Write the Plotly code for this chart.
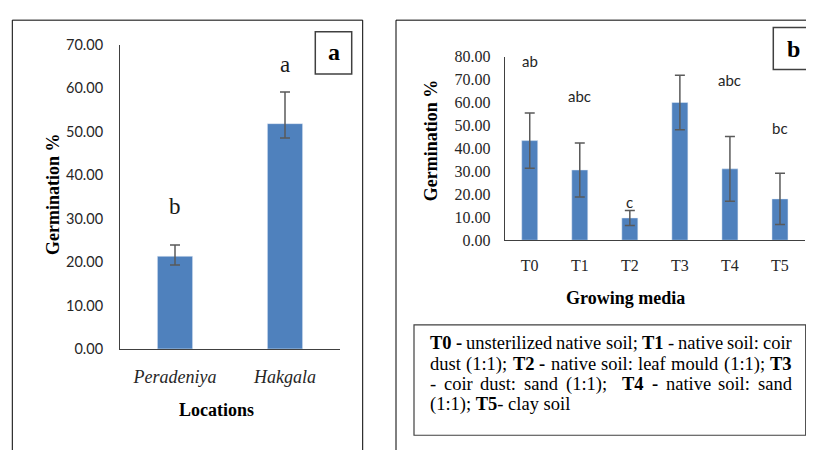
import plotly.graph_objects as go

# ---------------- data ----------------
locations = ["Peradeniya", "Hakgala"]
loc_labels = ["<i>Peradeniya</i>", "<i>Hakgala</i>"]
loc_germ = [21.3, 51.8]
loc_err_plus = [2.6, 7.3]
loc_err_minus = [2.0, 3.3]
loc_letters = ["b", "a"]
loc_letter_y = [32.7, 65.3]

media = ["T0", "T1", "T2", "T3", "T4", "T5"]
media_germ = [43.4, 30.6, 9.7, 60.0, 31.1, 18.0]
media_err = [12.0, 11.8, 3.3, 11.9, 14.1, 11.2]
media_letters = ["ab", "abc", "c", "a", "abc", "bc"]
media_letter_y = [77.9, 62.7, 16.6, 89.8, 69.7, 48.7]

ticks_a = [0, 10, 20, 30, 40, 50, 60, 70]
ticks_b = [0, 10, 20, 30, 40, 50, 60, 70, 80]

# description text, word by word (bold flag); "" marks a doubled space
desc_line1 = [("T0", 1), ("-", 1), ("unsterilized", 0), ("native", 0), ("soil;", 0),
              ("T1", 1), ("-", 0), ("native", 0), ("soil:", 0), ("coir", 0)]
desc_line2 = [("dust", 0), ("(1:1);", 0), ("T2", 1), ("-", 1), ("native", 0), ("soil:", 0),
              ("leaf", 0), ("mould", 0), ("(1:1);", 0), ("T3", 1)]
desc_line3 = [("-", 0), ("coir", 0), ("dust:", 0), ("sand", 0), ("(1:1);", 0), ("", 0),
              ("T4", 1), ("-", 1), ("native", 0), ("soil:", 0), ("sand", 0)]
desc_line4 = "(1:1); <b>T5</b>- clay soil"

# ---------------- layout helpers ----------------
# page body has an 8px margin: figure is sized to fill the rest of the window
OFF = 8
W, H = 814 - OFF, 450 - OFF
def px(x): return (x - OFF) / W
def py(y): return 1 - (y - OFF) / H

BAR = "#4F81BD"
ERR = "#5a5a5a"
AX = "#404040"
SERIF = "Liberation Serif"
SANS = "Lato"

# Times-compatible advance widths (per 1000 em) used to justify the paragraph
TIMES = dict(zip("abcdefghijklmnopqrstuvwxyz",
                 [444, 500, 444, 500, 444, 333, 500, 500, 278, 278, 500, 278, 778,
                  500, 500, 500, 500, 333, 389, 278, 500, 500, 722, 500, 500, 444]))
TIMES.update({"(": 333, ")": 333, ":": 278, ";": 278, "-": 333, "T": 611})
TIMES.update({str(d): 500 for d in range(10)})
TIMES_B = dict(TIMES)
TIMES_B.update({"T": 667, "-": 333})

def text_w(word, bold, size):
    table = TIMES_B if bold else TIMES
    return sum(table.get(ch, 500) for ch in word) * size / 1000.0

fig = go.Figure()

fig.add_trace(go.Bar(
    x=locations, y=loc_germ, marker_color=BAR, width=0.32,
    error_y=dict(type="data", array=loc_err_plus, arrayminus=loc_err_minus,
                 color=ERR, thickness=1.5, width=5),
    xaxis="x", yaxis="y", showlegend=False))

fig.add_trace(go.Bar(
    x=media, y=media_germ, marker_color=BAR, width=0.32,
    error_y=dict(type="data", array=media_err, color=ERR, thickness=1.5, width=5),
    xaxis="x2", yaxis="y2", showlegend=False))

axis_common = dict(showline=True, linecolor=AX, linewidth=1, showgrid=False,
                   zeroline=False, ticks="", fixedrange=True)

fig.update_layout(
    width=W, height=H, margin=dict(l=0, r=0, t=0, b=0),
    paper_bgcolor="white", plot_bgcolor="white",
    xaxis=dict(domain=[px(120), px(340)], anchor="y", range=[-0.5, 1.5],
               tickmode="array", tickvals=locations, ticktext=loc_labels,
               tickfont=dict(family=SERIF, size=18, color="#262626"),
               ticklabelstandoff=11, **axis_common),
    yaxis=dict(domain=[py(354), py(36.7)], anchor="x", range=[0, 70],
               tickmode="array", tickvals=ticks_a, tickformat=".2f",
               tickfont=dict(family=SANS, size=14.5, color="#262626"),
               ticklabelstandoff=13, **axis_common),
    xaxis2=dict(domain=[px(504.7), px(805)], anchor="y2", range=[-0.5, 5.5],
                tickfont=dict(family=SERIF, size=16, color="#262626"),
                ticklabelstandoff=11, **axis_common),
    yaxis2=dict(domain=[py(240.7), py(49.3)], anchor="x2", range=[0, 80],
                tickmode="array", tickvals=ticks_b, tickformat=".2f",
                tickfont=dict(family=SERIF, size=16, color="#262626"),
                ticklabelstandoff=10, **axis_common),
)

ann = []
# letters panel a
for c, t, yv in zip(locations, loc_letters, loc_letter_y):
    ann.append(dict(x=c, y=yv, xref="x", yref="y", text=t, showarrow=False,
                    xanchor="center", yanchor="middle",
                    font=dict(family=SERIF, size=23, color="#1a1a1a")))
# letters panel b
for c, t, yv in zip(media, media_letters, media_letter_y):
    ann.append(dict(x=c, y=yv, xref="x2", yref="y2", text=t, showarrow=False,
                    xanchor="center", yanchor="middle",
                    font=dict(family=SANS, size=15, color="#262626")))

title_font = dict(family=SERIF, size=18, color="black")
def pann(x, y, text, font, **kw):
    d = dict(x=px(x), y=py(y), xref="paper", yref="paper", text=text,
             showarrow=False, xanchor="center", yanchor="middle", font=font)
    d.update(kw)
    return d

ann += [
    pann(53, 192.5, "<b>Germination %</b>", title_font, textangle=-90),
    pann(216, 418, "<b>Locations</b>", title_font),
    pann(431.7, 136.7, "<b>Germination %</b>", title_font, textangle=-90),
    pann(625.5, 301, "<b>Growing media</b>", title_font),
    pann(333.5, 44, "<b>a</b>", dict(family=SERIF, size=24, color="black")),
    pann(793.3, 41, "<b>b</b>", dict(family=SERIF, size=24, color="black")),
]

# description box: justified paragraph, words spread between the margins
TB_SIZE = 18.5
tb_font = dict(family=SERIF, size=TB_SIZE, color="black")
LEFT, RIGHT = 428.0, 790.0
line_y = [348.3, 370.0, 390.7, 411.7]
for words, yy in zip([desc_line1, desc_line2, desc_line3], line_y):
    widths = [text_w(w, b, TB_SIZE) for w, b in words]
    gaps = len(words) - 1
    gap = (RIGHT - LEFT - sum(widths)) / gaps
    x = LEFT
    for (w, b), wd in zip(words, widths):
        if w:
            txt = f"<b>{w}</b>" if b else w
            ann.append(pann(x, yy, txt, tb_font, xanchor="left"))
        x += wd + gap
ann.append(pann(LEFT, line_y[3], desc_line4, tb_font, xanchor="left"))

fig.update_layout(annotations=ann)

def prect(x0, y0, x1, y1, color, width):
    return dict(type="rect", xref="paper", yref="paper", x0=px(x0), x1=px(x1),
                y0=py(y1), y1=py(y0), line=dict(color=color, width=width))

shapes = [
    prect(12.3, 11.3, 362.7, 470, "black", 1),     # panel a frame
    prect(396, 11.3, 840, 470, "black", 1),        # panel b frame
    prect(315.3, 23.3, 351.7, 67.3, "#404040", 1.5),  # 'a' label box
    prect(773.3, 19, 840, 62.7, "#404040", 1.5),      # 'b' label box
    prect(414, 329, 805.7, 444, "#404040", 1.2),      # description box
]
fig.update_layout(shapes=shapes)

fig.write_html("out.html")
